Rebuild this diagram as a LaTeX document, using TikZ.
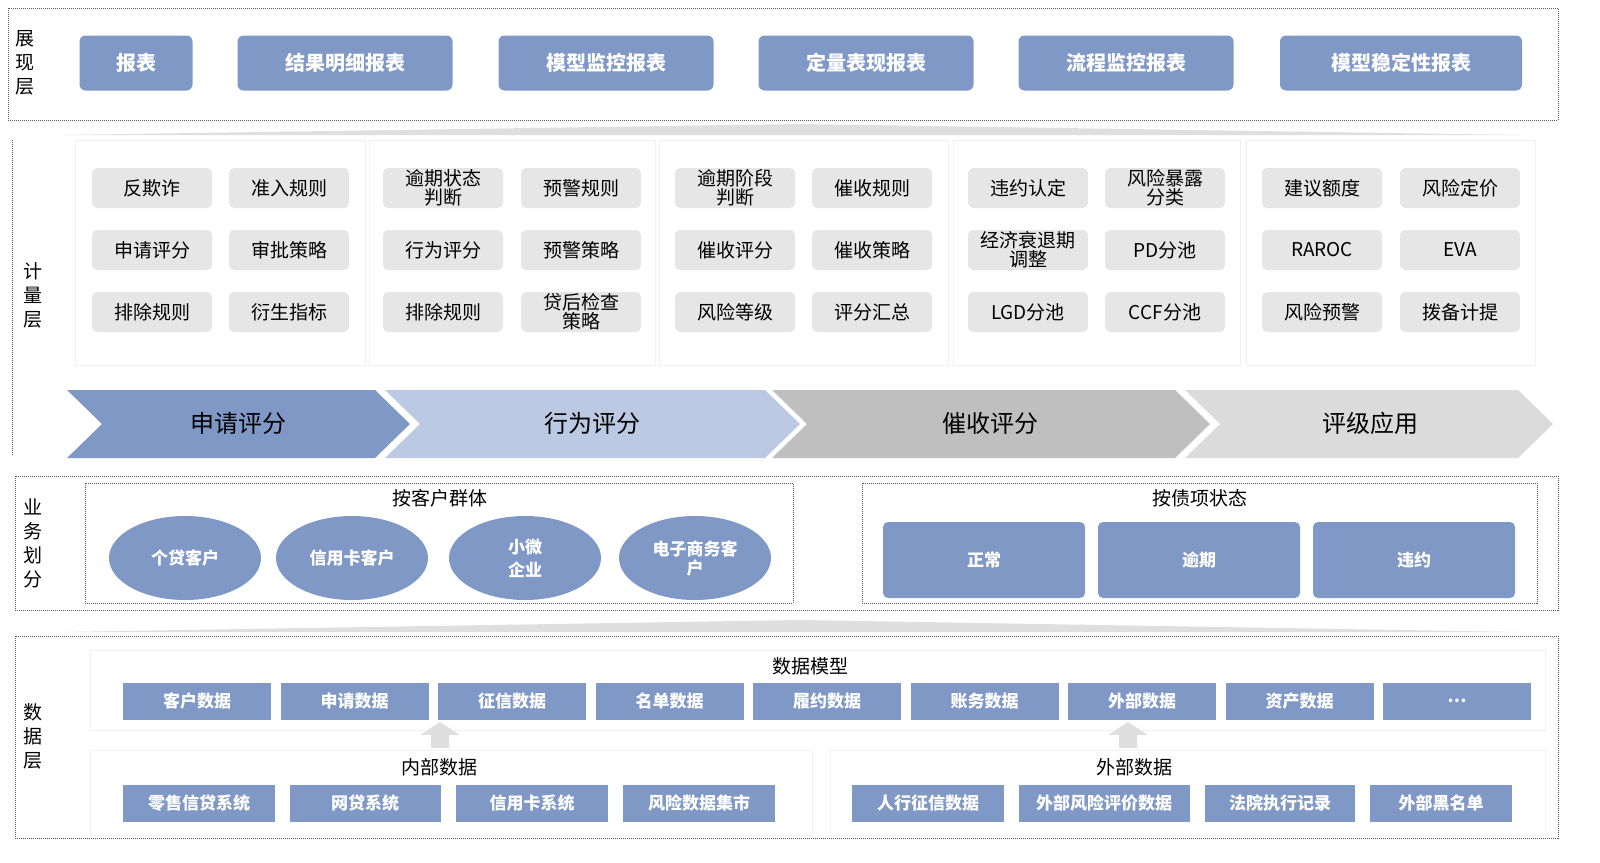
\documentclass[tikz,border=0pt]{standalone}
\usepackage{fontspec}
\setmainfont{Noto Sans CJK SC}
\usetikzlibrary{positioning, shapes.geometric}
\definecolor{blu}{HTML}{7F98C6}
\definecolor{lblu}{HTML}{BCC9E3}
\definecolor{cell}{HTML}{E6E6E6}
\begin{document}
\begin{tikzpicture}[x=1pt, y=-1pt, every node/.style={font=\fontsize{19}{21}\selectfont},
  frame/.style = {draw=gray!70!black, dashed, dash pattern=on 1pt off 1pt},
  panel/.style = {draw=gray!12, fill=white},
  rep/.style = {fill=blu, rounded corners=6pt, text=white, minimum height=55pt, inner sep=0pt, font=\fontsize{20}{22}\bfseries},
  cellbox/.style = {fill=cell, rounded corners=5pt, minimum width=120pt, minimum height=40pt, inner sep=0pt, align=center, font=\fontsize{19}{19}\selectfont},
  datbox/.style = {fill=blu, text=white, minimum height=37pt, inner sep=0pt, font=\fontsize{17}{19}\bfseries},
  oval/.style = {ellipse, fill=blu, text=white, minimum width=152pt, minimum height=84pt, align=center, font=\fontsize{17}{19}\bfseries},
  layer/.style = {align=center, font=\fontsize{19}{24}\selectfont},
  wedge/.style = {fill=gray!25, draw=none}]
\useasboundingbox (0,0) rectangle (1600,862);
% presentation layer
\draw[frame] (8,8) rectangle (1558,120);
\node[layer] (l1) at (25,63) {展\\现\\层};
\foreach \x/\w/\t [count=\i] in {136/113/报表, 345/215/结果明细报表, 606/215/模型监控报表, 866/215/定量表现报表, 1126/215/流程监控报表, 1401/242/模型稳定性报表}
  \node[rep, minimum width=\w pt] (r\i) at (\x,63) {\t};
\fill[wedge] (60,135) -- (800,124) -- (1520,135) -- cycle;
% measurement layer
\draw[frame] (12,140) -- (12,455);
\node[layer] (l2) at (33,295) {计\\量\\层};
\foreach \a/\b in {75/365, 369/655, 659/948, 953/1240, 1246/1535}
  \draw[panel] (\a,140) rectangle (\b,365);
\foreach \x/\t [count=\i] in {152/反欺诈, 289/准入规则, 443/{逾期状态\\判断}, 581/预警规则, 735/{逾期阶段\\判断}, 872/催收规则, 1028/违约认定, 1165/{风险暴露\\分类}, 1322/建议额度, 1460/风险定价}
  \node[cellbox] (a\i) at (\x,188) {\t};
\foreach \x/\t [count=\i] in {152/申请评分, 289/审批策略, 443/行为评分, 581/预警策略, 735/催收评分, 872/催收策略, 1028/{经济衰退期\\调整}, 1165/PD分池, 1322/RAROC, 1460/EVA}
  \node[cellbox] (b\i) at (\x,250) {\t};
\foreach \x/\t [count=\i] in {152/排除规则, 289/衍生指标, 443/排除规则, 581/{贷后检查\\策略}, 735/风险等级, 872/评分汇总, 1028/LGD分池, 1165/CCF分池, 1322/风险预警, 1460/拨备计提}
  \node[cellbox] (c\i) at (\x,312) {\t};
% process chevrons
\foreach \a/\b/\c/\t/\m in {1185/1553/gray!28/评级应用/1370, 772/1210/gray!50/催收评分/990, 385/800/lblu/行为评分/592, 67/410/blu/申请评分/238} {
  \fill[\c] (\a,390) -- (\b-35,390) -- (\b,424) -- (\b-35,458) -- (\a,458) -- (\a+35,424) -- cycle;
  \node[font=\fontsize{24}{26}\selectfont] at (\m,423) {\t};
}
% business layer
\draw[frame] (15,476) rectangle (1558,610);
\node[layer] (l3) at (33,543) {业\\务\\划\\分};
\draw[frame] (85,483) rectangle (793,603);
\node (g1) at (440,498) {按客户群体};
\foreach \x/\t [count=\i] in {185/个贷客户, 352/信用卡客户, 525/{小微\\[4pt]企业}, 695/{电子商务客\\户}}
  \node[oval] (o\i) at (\x,558) {\t};
\draw[frame] (862,483) rectangle (1537,603);
\node (g2) at (1200,498) {按债项状态};
\foreach \x/\t [count=\i] in {984/正常, 1199/逾期, 1414/违约}
  \node[fill=blu, rounded corners=5pt, text=white, minimum width=202pt, minimum height=76pt, font=\fontsize{17}{19}\bfseries] (s\i) at (\x,560) {\t};
\fill[wedge] (60,632) -- (800,620) -- (1520,632) -- cycle;
% data layer
\draw[frame] (15,636) rectangle (1558,838);
\node[layer] (l4) at (33,736) {数\\据\\层};
\draw[panel] (90,650) rectangle (1545,730);
\node (dm) at (810,666) {数据模型};
\foreach \t [count=\i from 0] in {客户数据, 申请数据, 征信数据, 名单数据, 履约数据, 账务数据, 外部数据, 资产数据, \dots}
  \node[datbox, minimum width=148pt] (d\i) at (197+157.5*\i,701) {\t};
\draw[panel] (90,750) rectangle (812,835);
\draw[panel] (830,750) rectangle (1545,835);
\node (in) at (439,767) {内部数据};
\node (ex) at (1134,767) {外部数据};
\foreach \x/\w/\t [count=\i] in {199/152/零售信贷系统, 365/151/网贷系统, 532/152/信用卡系统, 699/152/风险数据集市, 928/152/人行征信数据, 1104/171/外部风险评价数据, 1280/150/法院执行记录, 1441/142/外部黑名单}
  \node[datbox, minimum width=\w pt] (e\i) at (\x,803) {\t};
\foreach \x in {440, 1128}
  \fill[gray!25] (\x-9,748) -- (\x-9,735) -- (\x-20,735) -- (\x,722) -- (\x+20,735) -- (\x+9,735) -- (\x+9,748) -- cycle;
\end{tikzpicture}
\end{document}
